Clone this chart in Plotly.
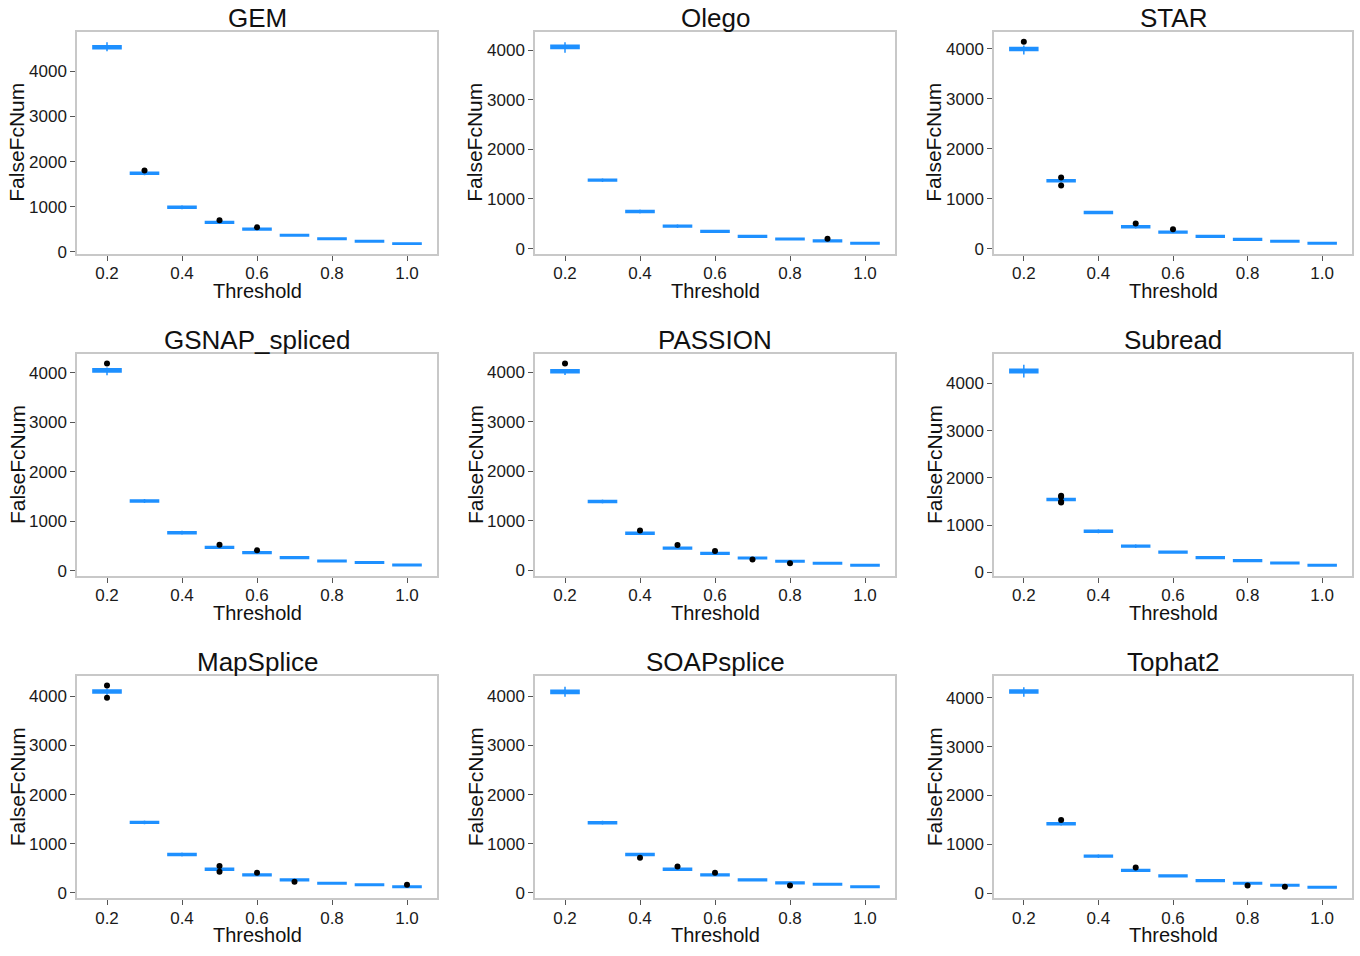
import plotly.graph_objects as go

# ---------------- data ----------------
THRESHOLDS = [0.2, 0.3, 0.4, 0.5, 0.6, 0.7, 0.8, 0.9, 1.0]
X_TICKS = [0.2, 0.4, 0.6, 0.8, 1.0]
X_TICK_LABELS = ["0.2", "0.4", "0.6", "0.8", "1.0"]
Y_TICKS = [0, 1000, 2000, 3000, 4000]
Y_TICK_LABELS = ["0", "1000", "2000", "3000", "4000"]

PANEL_NAMES = ["GEM", "Olego", "STAR", "GSNAP_spliced", "PASSION", "Subread",
               "MapSplice", "SOAPsplice", "Tophat2"]

GEM_median = [4534, 1743, 989, 653, 505, 367, 293, 235, 183]
GEM_q1 = [4500, 1722, 968, 633, 486, 350, 276, 218, 167]
GEM_q3 = [4570, 1764, 1010, 672, 524, 384, 310, 252, 199]
GEM_lower = [4446, 1700, 945, 615, 470, 340, 266, 210, 160]
GEM_upper = [4644, 1785, 1035, 690, 540, 394, 320, 260, 206]
GEM_out_x = [0.3, 0.5, 0.6]
GEM_out_y = [1802, 703, 543]

Olego_median = [4067, 1380, 747, 453, 347, 247, 193, 153, 107]
Olego_q1 = [4035, 1360, 728, 434, 330, 230, 176, 137, 92]
Olego_q3 = [4100, 1400, 766, 472, 364, 264, 210, 170, 122]
Olego_lower = [3947, 1340, 705, 415, 320, 222, 168, 128, 85]
Olego_upper = [4160, 1420, 790, 490, 374, 272, 218, 178, 130]
Olego_out_x = [0.9]
Olego_out_y = [200]

STAR_median = [4000, 1360, 724, 437, 332, 247, 187, 147, 107]
STAR_q1 = [3970, 1340, 705, 418, 315, 230, 170, 130, 92]
STAR_q3 = [4030, 1380, 743, 456, 349, 264, 204, 164, 122]
STAR_lower = [3890, 1320, 690, 400, 305, 222, 162, 122, 85]
STAR_upper = [4066, 1400, 758, 470, 358, 272, 212, 172, 130]
STAR_out_x = [0.2, 0.3, 0.3, 0.5, 0.6]
STAR_out_y = [4145, 1425, 1266, 505, 386]

GSNAP_median = [4053, 1411, 770, 475, 369, 269, 200, 168, 120]
GSNAP_q1 = [4020, 1392, 751, 456, 352, 252, 183, 152, 105]
GSNAP_q3 = [4085, 1430, 789, 494, 386, 286, 217, 184, 135]
GSNAP_lower = [3953, 1372, 730, 440, 340, 244, 175, 145, 98]
GSNAP_upper = [4107, 1450, 810, 510, 398, 294, 225, 192, 142]
GSNAP_out_x = [0.2, 0.5, 0.6]
GSNAP_out_y = [4188, 529, 415]

PASSION_median = [4027, 1391, 749, 448, 341, 247, 181, 141, 100]
PASSION_q1 = [3995, 1372, 730, 430, 324, 230, 165, 125, 85]
PASSION_q3 = [4055, 1410, 768, 466, 358, 264, 197, 157, 115]
PASSION_lower = [3948, 1350, 712, 412, 312, 222, 158, 118, 78]
PASSION_upper = [4067, 1430, 785, 482, 370, 272, 204, 164, 122]
PASSION_out_x = [0.2, 0.4, 0.5, 0.6, 0.7, 0.8]
PASSION_out_y = [4183, 803, 508, 388, 215, 141]

Subread_median = [4264, 1544, 873, 558, 432, 314, 252, 201, 153]
Subread_q1 = [4225, 1524, 853, 538, 413, 296, 234, 184, 137]
Subread_q3 = [4300, 1564, 893, 578, 451, 332, 270, 218, 169]
Subread_lower = [4124, 1504, 830, 518, 400, 286, 224, 175, 128]
Subread_upper = [4396, 1584, 915, 596, 463, 342, 280, 227, 178]
Subread_out_x = [0.3, 0.3, 0.3, 0.3]
Subread_out_y = [1621, 1600, 1495, 1481]

MapSplice_median = [4101, 1434, 780, 478, 364, 263, 194, 162, 121]
MapSplice_q1 = [4070, 1414, 761, 459, 347, 246, 177, 146, 106]
MapSplice_q3 = [4130, 1454, 799, 497, 381, 280, 211, 178, 136]
MapSplice_lower = [4032, 1394, 740, 445, 338, 238, 170, 139, 99]
MapSplice_upper = [4162, 1474, 820, 512, 392, 288, 218, 186, 144]
MapSplice_out_x = [0.2, 0.2, 0.5, 0.5, 0.6, 0.7, 1.0]
MapSplice_out_y = [4222, 3972, 545, 430, 410, 222, 162]

SOAPsplice_median = [4094, 1426, 780, 478, 364, 263, 202, 174, 121]
SOAPsplice_q1 = [4060, 1406, 761, 459, 347, 246, 185, 158, 106]
SOAPsplice_q3 = [4125, 1446, 799, 497, 381, 280, 219, 190, 136]
SOAPsplice_lower = [3992, 1386, 745, 445, 338, 238, 178, 151, 99]
SOAPsplice_upper = [4195, 1466, 815, 512, 392, 288, 226, 198, 144]
SOAPsplice_out_x = [0.4, 0.5, 0.6, 0.8]
SOAPsplice_out_y = [713, 537, 410, 147]

Tophat2_median = [4128, 1420, 759, 467, 353, 258, 203, 162, 122]
Tophat2_q1 = [4095, 1400, 740, 448, 336, 241, 186, 146, 107]
Tophat2_q3 = [4160, 1440, 778, 486, 370, 275, 220, 178, 137]
Tophat2_lower = [4020, 1380, 722, 432, 326, 233, 179, 139, 100]
Tophat2_upper = [4216, 1460, 795, 500, 380, 283, 228, 186, 144]
Tophat2_out_x = [0.3, 0.5, 0.8, 0.9]
Tophat2_out_y = [1495, 527, 156, 130]

# panel y-axis ranges (as drawn)
Y_RANGES = [[-44, 4879], [-107, 4373], [-105, 4344],
            [-106, 4381], [-120, 4375], [-78, 4623],
            [-115, 4410], [-115, 4410], [-107, 4438]]

PANELS = [
    (GEM_q1, GEM_median, GEM_q3, GEM_lower, GEM_upper, GEM_out_x, GEM_out_y),
    (Olego_q1, Olego_median, Olego_q3, Olego_lower, Olego_upper, Olego_out_x, Olego_out_y),
    (STAR_q1, STAR_median, STAR_q3, STAR_lower, STAR_upper, STAR_out_x, STAR_out_y),
    (GSNAP_q1, GSNAP_median, GSNAP_q3, GSNAP_lower, GSNAP_upper, GSNAP_out_x, GSNAP_out_y),
    (PASSION_q1, PASSION_median, PASSION_q3, PASSION_lower, PASSION_upper, PASSION_out_x, PASSION_out_y),
    (Subread_q1, Subread_median, Subread_q3, Subread_lower, Subread_upper, Subread_out_x, Subread_out_y),
    (MapSplice_q1, MapSplice_median, MapSplice_q3, MapSplice_lower, MapSplice_upper, MapSplice_out_x, MapSplice_out_y),
    (SOAPsplice_q1, SOAPsplice_median, SOAPsplice_q3, SOAPsplice_lower, SOAPsplice_upper, SOAPsplice_out_x, SOAPsplice_out_y),
    (Tophat2_q1, Tophat2_median, Tophat2_q3, Tophat2_lower, Tophat2_upper, Tophat2_out_x, Tophat2_out_y),
]

# ---------------- layout geometry (pixels) ----------------
W, H = 1360, 956
COL_X = [(77, 437), (535, 895), (994, 1352)]
ROW_Y = [(32, 256), (357, 581), (682, 906)]

BLUE = "#1E90FF"
FONT = "Liberation Sans, Arial, sans-serif"

fig = go.Figure()
layout = dict(
    width=W, height=H,
    margin=dict(l=0, r=0, t=0, b=0),
    paper_bgcolor="white", plot_bgcolor="white",
    showlegend=False,
    font=dict(family=FONT, color="#1a1a1a"),
)
annotations = []

for i, (q1, med, q3, lo, hi, ox, oy) in enumerate(PANELS):
    r, c = divmod(i, 3)
    x0, x1 = COL_X[c]
    y0, y1 = ROW_Y[r]
    sfx = "" if i == 0 else str(i + 1)
    xa, ya = "x" + sfx, "y" + sfx

    fig.add_trace(go.Box(
        x=THRESHOLDS, q1=q1, median=med, q3=q3, lowerfence=lo, upperfence=hi,
        width=0.075, whiskerwidth=0, boxpoints=False,
        fillcolor=BLUE, line=dict(color=BLUE, width=1.5),
        xaxis=xa, yaxis=ya, hoverinfo="skip",
    ))
    fig.add_trace(go.Scatter(
        x=ox, y=oy, mode="markers",
        marker=dict(color="black", size=6),
        xaxis=xa, yaxis=ya, hoverinfo="skip",
    ))

    axis_common = dict(
        showgrid=False, zeroline=False,
        showline=True, linecolor="#C8C8C8", linewidth=1.5, mirror=True,
        ticks="outside", ticklen=5, tickwidth=1, tickcolor="#555555",
        tickfont=dict(family=FONT, size=17, color="#1a1a1a"),
    )
    layout["xaxis" + sfx] = dict(
        axis_common,
        domain=[x0 / W, x1 / W], anchor=ya,
        range=[0.12, 1.08], tickmode="array",
        tickvals=X_TICKS, ticktext=X_TICK_LABELS,
        ticklabelstandoff=-2,
    )
    layout["yaxis" + sfx] = dict(
        axis_common,
        domain=[1 - y1 / H, 1 - y0 / H], anchor=xa,
        range=Y_RANGES[i], tickmode="array",
        tickvals=Y_TICKS, ticktext=Y_TICK_LABELS,
    )

    cx = (x0 + x1) / 2
    cy = (y0 + y1) / 2
    annotations.append(dict(
        text=PANEL_NAMES[i], x=cx / W, y=1 - (y0 - 14) / H,
        xref="paper", yref="paper", showarrow=False,
        xanchor="center", yanchor="middle",
        font=dict(family=FONT, size=26, color="#111111"),
    ))
    annotations.append(dict(
        text="Threshold", x=cx / W, y=1 - (y1 + 37) / H,
        xref="paper", yref="paper", showarrow=False,
        xanchor="center", yanchor="middle",
        font=dict(family=FONT, size=20, color="#111111"),
    ))
    annotations.append(dict(
        text="FalseFcNum", x=(x0 - 60) / W, y=1 - cy / H,
        xref="paper", yref="paper", showarrow=False, textangle=-90,
        xanchor="center", yanchor="middle",
        font=dict(family=FONT, size=21, color="#111111"),
    ))

layout["annotations"] = annotations
fig.update_layout(**layout)
fig.write_html(
    "out.html",
    config={"displayModeBar": False},
    post_script="document.body.style.margin='0px';document.body.style.padding='0px';document.body.style.overflow='hidden';",
)
